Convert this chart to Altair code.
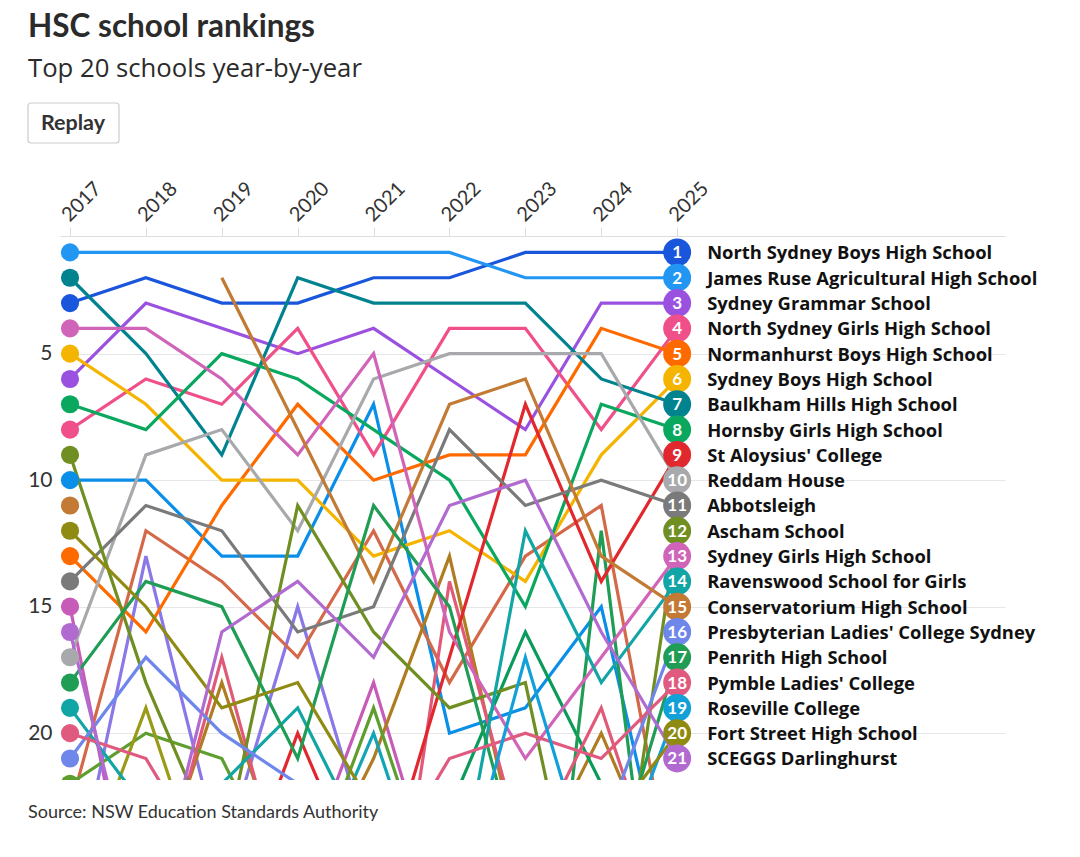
import altair as alt
import pandas as pd

years = [2017, 2018, 2019, 2020, 2021, 2022, 2023, 2024, 2025]

# Schools ranked in the 2025 top 21 (labelled at the right)
labelled_names = [
    "North Sydney Boys High School", "James Ruse Agricultural High School",
    "Sydney Grammar School", "North Sydney Girls High School",
    "Normanhurst Boys High School", "Sydney Boys High School",
    "Baulkham Hills High School", "Hornsby Girls High School",
    "St Aloysius' College", "Reddam House", "Abbotsleigh", "Ascham School",
    "Sydney Girls High School", "Ravenswood School for Girls",
    "Conservatorium High School", "Presbyterian Ladies' College Sydney",
    "Penrith High School", "Pymble Ladies' College", "Roseville College",
    "Fort Street High School", "SCEGGS Darlinghurst",
]
labelled_colors = [
    "#1a56db", "#2196f3", "#9b51e0", "#f0508a", "#ff6a00", "#f4b400",
    "#00838f", "#0aa85e", "#e0282e", "#a7a9ac", "#7a7a7a", "#6f8f22",
    "#d064b8", "#12a5a5", "#c27a35", "#6f86ea", "#1f9d55", "#e05a80",
    "#12a0d8", "#8f8a12", "#b06ad0",
]
labelled_ranks = [
    [3, 2, 3, 3, 2, 2, 1, 1, 1],
    [1, 1, 1, 1, 1, 1, 2, 2, 2],
    [6, 3, 4, 5, 4, 6, 8, 3, 3],
    [8, 6, 7, 4, 9, 4, 4, 8, 4],
    [13, 16, 11, 7, 10, 9, 9, 4, 5],
    [5, 7, 10, 10, 13, 12, 14, 9, 6],
    [2, 5, 9, 2, 3, 3, 3, 6, 7],
    [7, 8, 5, 6, 8, 10, 15, 7, 8],
    [30, 29, 28, 20, 27, 17, 7, 14, 9],
    [17, 9, 8, 12, 6, 5, 5, 5, 10],
    [14, 11, 12, 16, 15, 8, 11, 10, 11],
    [9, 18, 25, 11, 16, 19, 18, 32, 12],
    [4, 4, 6, 9, 5, 16, 21, 17, 13],
    [19, 23, 22, 19, 25, 28, 12, 18, 14],
    [11, None, 2, 8, 14, 7, 6, 13, 15],
    [21, 17, 20, 22, 24, 25, 26, 24, 16],
    [18, 14, 15, 21, 11, 15, 26, 27, 17],
    [20, 21, 26, 24, 26, 21, 20, 21, 18],
    [24, 26, 27, 24, 30, 28, 17, 27, 19],
    [12, 15, 19, 18, 23, 24, 25, 24, 20],
    [16, 28, 16, 14, 17, 11, 10, 16, 21],
]

# Other schools that drop out of the top 21 by 2025 (no label)
other_names = ["Other A", "Other B", "Other C", "Other D", "Other E", "Other F",
               "Other G", "Other H", "Other I", "Other J", "Other K"]
other_colors = ["#c75cb8", "#8a78e8", "#0a8fe8", "#d4694a", "#b07c22", "#0a9a5a",
                "#1f9d55", "#5e9e2e", "#12a5b5", "#9a9a1a", "#e05a78"]
other_ranks = [
    [15, 30, 28, 26, 18, 28, 30, 29, 30],
    [27, 13, 25, 15, 25, 29, 30, 28, 30],
    [10, 10, 13, 13, 7, 20, 19, 15, 28],
    [23, 12, 14, 17, 12, 18, 13, 11, 27],
    [28, 27, 18, 27, 21, 13, 26, 20, 27],
    [30, 29, 28, 26, 25, 23, 16, 22, 27],
    [35, 34, 33, 32, 33, 34, 38, 12, 36],
    [22, 20, 21, 27, 19, 28, 30, 29, 30],
    [30, 28, 29, 27, 20, 29, 30, 30, 30],
    [27, 19, 28, 29, 28, 30, 29, 26, 28],
    [30, 28, 17, 28, 34, 14, 25, 19, 28],
]

all_names = other_names + labelled_names
all_colors = other_colors + labelled_colors
all_ranks = other_ranks + labelled_ranks

rows = []
for name, rk in zip(all_names, all_ranks):
    seg = 0
    for yr, r in zip(years, rk):
        if r is None:
            seg += 1
            continue
        rows.append({"school": name, "year": yr, "rank": r, "seg": f"{name}|{seg}"})
df = pd.DataFrame(rows)

end_df = pd.DataFrame({
    "school": labelled_names,
    "year": [2025] * len(labelled_names),
    "rank": [labelled_ranks[i][-1] for i in range(len(labelled_names))],
})
end_df["num"] = end_df["rank"].astype(str)

start_df = df[df["year"] == 2017]

color = alt.Color("school:N", scale=alt.Scale(domain=all_names, range=all_colors), legend=None)
xs = alt.Scale(domain=[2016.868, 2029.32], nice=False, zero=False)
ys = alt.Scale(domain=[0.35, 21.85], nice=False, zero=False, reverse=True)

x_enc = alt.X("year:Q", scale=xs, axis=alt.Axis(
    orient="top", values=years, format="d", labelAngle=-45, labelAlign="left",
    labelBaseline="middle", labelPadding=9, labelOffset=-5, labelFontSize=20,
    labelFont="Lato", labelColor="#333333", grid=False, domainColor="#dddddd",
    tickColor="#dddddd", tickSize=9, title=None, labelFlush=False, labelOverlap=False))
y_enc = alt.Y("rank:Q", scale=ys, axis=alt.Axis(
    values=[5, 10, 15, 20], grid=True, gridColor="#e6e6e6", gridWidth=1.2, domain=False,
    ticks=False, labelPadding=8, labelFontSize=21, labelFont="Lato",
    labelColor="#333333", title=None))

lines = alt.Chart(df).mark_line(strokeWidth=3.2, clip=True).encode(
    x=x_enc, y=y_enc, color=color, detail="seg:N", order="year:Q")

start_dots = alt.Chart(start_df).mark_circle(size=330, opacity=1, clip=True).encode(
    x=alt.X("year:Q", scale=xs), y=alt.Y("rank:Q", scale=ys), color=color)

end_dots = alt.Chart(end_df).mark_circle(size=780, opacity=1).encode(
    x=alt.X("year:Q", scale=xs), y=alt.Y("rank:Q", scale=ys), color=color)

end_nums = alt.Chart(end_df).mark_text(
    color="white", fontWeight="bold", fontSize=17, font="Lato",
    align="center", baseline="middle", dy=1).encode(
    x=alt.X("year:Q", scale=xs), y=alt.Y("rank:Q", scale=ys), text="num:N")

end_labels = alt.Chart(end_df).mark_text(
    color="#111111", fontWeight="bold", fontSize=18.4, font="Open Sans",
    align="left", baseline="middle", dx=30, dy=1).encode(
    x=alt.X("year:Q", scale=xs), y=alt.Y("rank:Q", scale=ys), text="school:N")

title_df = pd.DataFrame({"t": ["HSC school rankings"]})
sub_df = pd.DataFrame({"t": ["Top 20 schools year-by-year"]})
btn_df = pd.DataFrame({"t": ["Replay"]})
src_df = pd.DataFrame({"t": ["Source: NSW Education Standards Authority"]})

title = alt.Chart(title_df).mark_text(
    align="left", baseline="alphabetic", fontSize=31.5, fontWeight="bold",
    font="Lato", color="#2b2b2b").encode(
    x=alt.value(-32), y=alt.value(-199), text="t:N")
subtitle = alt.Chart(sub_df).mark_text(
    align="left", baseline="alphabetic", fontSize=25.7, font="Open Sans",
    color="#2b2b2b").encode(
    x=alt.value(-32), y=alt.value(-159), text="t:N")
button = alt.Chart(btn_df).mark_rect(
    fill="white", stroke="#cccccc", strokeWidth=1.2, cornerRadius=3).encode(
    x=alt.value(-32), x2=alt.value(59), y=alt.value(-133), y2=alt.value(-93))
button_text = alt.Chart(btn_df).mark_text(
    align="center", baseline="middle", fontSize=21.5, fontWeight="bold",
    font="Lato", color="#333333").encode(
    x=alt.value(13), y=alt.value(-112), text="t:N")
source = alt.Chart(src_df).mark_text(
    align="left", baseline="alphabetic", fontSize=18, font="Lato",
    color="#333333").encode(
    x=alt.value(-32), y=alt.value(582), text="t:N")

chart = alt.layer(
    lines, start_dots, end_dots, end_nums, end_labels,
    title, subtitle, button, button_text, source
).properties(
    width=945, height=544,
    padding={"left": 60, "top": 236, "right": 75, "bottom": 77},
    autosize=alt.AutoSizeParams(type="none"),
).configure_view(stroke=None)

chart.save("out.html", embed_options={"renderer": "svg", "actions": False})
